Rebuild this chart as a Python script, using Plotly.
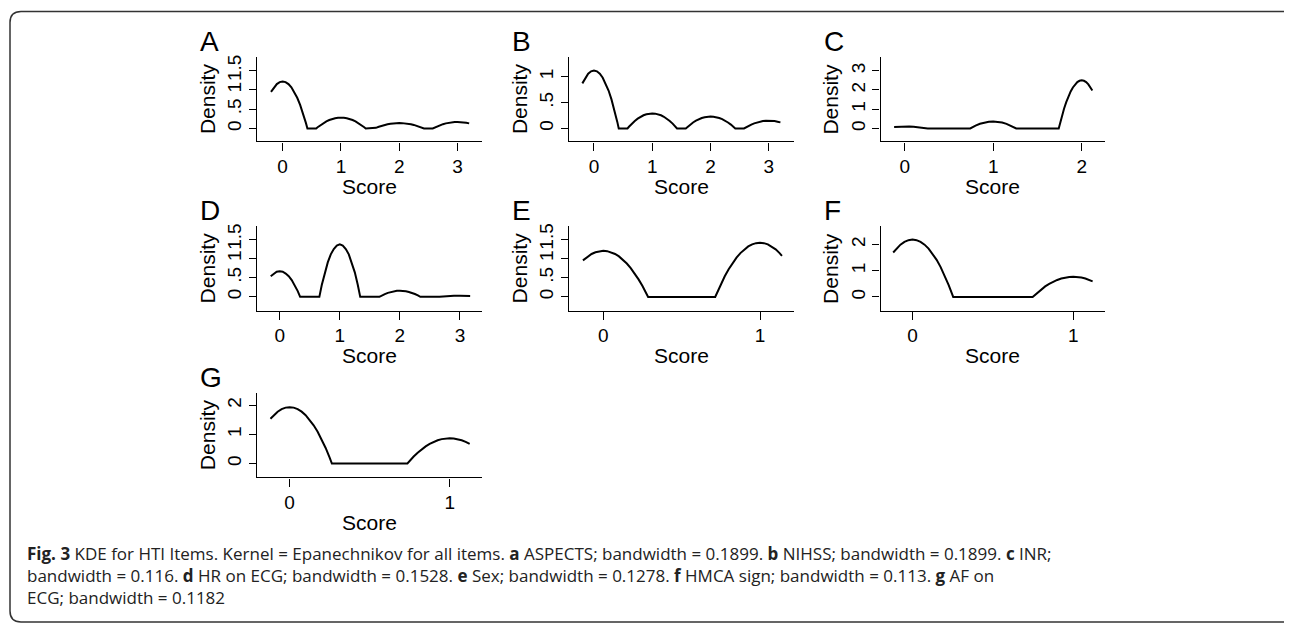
import plotly.graph_objects as go

# ---------------- data ----------------
a_x = [-0.2, -0.15, -0.1, -0.05, 0, 0.05, 0.1, 0.15, 0.2, 0.25, 0.3, 0.35, 0.4, 0.425,
       0.575, 0.6, 0.65, 0.7, 0.75, 0.8, 0.85, 0.9, 0.95, 1.0, 1.05, 1.1, 1.15, 1.2, 1.25, 1.3, 1.35, 1.4, 1.425,
       1.575, 1.6, 1.65, 1.7, 1.75, 1.8, 1.85, 1.9, 1.95, 2.0, 2.05, 2.1, 2.15, 2.2, 2.25, 2.3, 2.35, 2.4, 2.425,
       2.575, 2.6, 2.65, 2.7, 2.75, 2.8, 2.85, 2.9, 2.95, 3.0, 3.05, 3.1, 3.15, 3.2]
a_y = [0.949, 1.068, 1.152, 1.203, 1.22, 1.203, 1.152, 1.068, 0.949, 0.797, 0.611, 0.391, 0.137, 0,
       0, 0.032, 0.090, 0.140, 0.183, 0.218, 0.245, 0.264, 0.276, 0.28, 0.276, 0.264, 0.245, 0.218, 0.183, 0.140, 0.090, 0.032, 0,
       0, 0.016, 0.045, 0.070, 0.091, 0.109, 0.123, 0.132, 0.138, 0.14, 0.138, 0.132, 0.123, 0.109, 0.091, 0.070, 0.045, 0.016, 0,
       0, 0.019, 0.055, 0.085, 0.111, 0.132, 0.149, 0.161, 0.168, 0.17, 0.168, 0.161, 0.149, 0.132]

b_x = list(a_x)
b_y = [0.871, 0.980, 1.058, 1.104, 1.12, 1.104, 1.058, 0.980, 0.871, 0.732, 0.561, 0.359, 0.126, 0,
       0, 0.033, 0.093, 0.145, 0.189, 0.226, 0.254, 0.274, 0.286, 0.29, 0.286, 0.274, 0.254, 0.226, 0.189, 0.145, 0.093, 0.033, 0,
       0, 0.026, 0.074, 0.115, 0.150, 0.179, 0.201, 0.217, 0.227, 0.23, 0.227, 0.217, 0.201, 0.179, 0.150, 0.115, 0.074, 0.026, 0,
       0, 0.017, 0.048, 0.075, 0.098, 0.117, 0.131, 0.142, 0.148, 0.15, 0.148, 0.142, 0.131, 0.117]

c_x = [-0.12, -0.1, -0.05, 0, 0.05, 0.1, 0.15, 0.2, 0.25, 0.26, 0.74, 0.75, 0.8, 0.85, 0.9, 0.95, 1.0, 1.05,
       1.1, 1.15, 1.2, 1.25, 1.26, 1.74, 1.75, 1.775, 1.8, 1.825, 1.85, 1.875, 1.9, 1.925, 1.95, 1.975, 2.0,
       2.025, 2.05, 2.075, 2.1, 2.12]
c_y = [0.079, 0.085, 0.096, 0.1, 0.096, 0.085, 0.067, 0.041, 0.007, 0, 0, 0.026, 0.146, 0.24, 0.306, 0.347, 0.36, 0.347,
       0.306, 0.24, 0.146, 0.026, 0, 0, 0.18, 0.62, 1.02, 1.363, 1.67, 1.92, 2.13, 2.291, 2.41, 2.477, 2.5,
       2.477, 2.41, 2.291, 2.13, 1.97]

d_x = [-0.15, -0.1, -0.05, 0, 0.05, 0.1, 0.15, 0.2, 0.25, 0.3, 0.34, 0.66, 0.7, 0.75, 0.8, 0.85, 0.9, 0.95, 1.0,
       1.05, 1.1, 1.15, 1.2, 1.25, 1.3, 1.34, 1.66, 1.7, 1.75, 1.8, 1.85, 1.9, 1.95, 2.0, 2.05, 2.1, 2.15, 2.2, 2.25,
       2.3, 2.34, 2.66, 2.7, 2.8, 2.9, 3.0, 3.1, 3.17]
d_y = [0.54, 0.61, 0.656, 0.67, 0.656, 0.61, 0.54, 0.44, 0.31, 0.15, 0, 0, 0.31, 0.64, 0.90, 1.11, 1.25, 1.34, 1.37,
       1.34, 1.25, 1.11, 0.90, 0.64, 0.31, 0, 0, 0.037, 0.074, 0.105, 0.129, 0.146, 0.157, 0.16, 0.157, 0.146, 0.129, 0.105, 0.074,
       0.037, 0, 0, 0.007, 0.02, 0.027, 0.03, 0.027, 0.022]

e_x = [-0.13, -0.1, -0.075, -0.05, -0.025, 0, 0.025, 0.05, 0.075, 0.1, 0.125, 0.15, 0.175, 0.2, 0.225, 0.25, 0.275, 0.286,
       0.714, 0.725, 0.75, 0.775, 0.8, 0.825, 0.85, 0.875, 0.9, 0.925, 0.95, 0.975, 1.0, 1.025, 1.05, 1.075, 1.1, 1.125, 1.14]
e_y = [0.95, 1.054, 1.117, 1.163, 1.191, 1.2, 1.191, 1.163, 1.117, 1.054, 0.970, 0.869, 0.750, 0.612, 0.456, 0.282, 0.089, 0,
       0, 0.104, 0.331, 0.536, 0.719, 0.881, 1.021, 1.140, 1.238, 1.313, 1.366, 1.399, 1.41, 1.399, 1.366, 1.313, 1.238, 1.140, 1.07]

f_x = [-0.12, -0.1, -0.075, -0.05, -0.025, 0, 0.025, 0.05, 0.075, 0.1, 0.125, 0.15, 0.175, 0.2, 0.225, 0.25, 0.253,
       0.747, 0.75, 0.775, 0.8, 0.825, 0.85, 0.875, 0.9, 0.925, 0.95, 0.975, 1.0, 1.025, 1.05, 1.075, 1.1, 1.12]
f_y = [1.696, 1.847, 1.997, 2.104, 2.169, 2.19, 2.169, 2.104, 1.997, 1.847, 1.654, 1.418, 1.140, 0.818, 0.454, 0.046, 0,
       0, 0.016, 0.159, 0.288, 0.401, 0.499, 0.582, 0.649, 0.702, 0.740, 0.762, 0.77, 0.762, 0.740, 0.702, 0.649, 0.596]

g_x = [-0.12, -0.1, -0.075, -0.05, -0.025, 0, 0.025, 0.05, 0.075, 0.1, 0.125, 0.15, 0.175, 0.2, 0.225, 0.25, 0.264,
       0.736, 0.75, 0.775, 0.8, 0.825, 0.85, 0.875, 0.9, 0.925, 0.95, 0.975, 1.0, 1.025, 1.05, 1.075, 1.1, 1.125]
g_y = [1.540, 1.662, 1.784, 1.871, 1.923, 1.94, 1.923, 1.871, 1.784, 1.662, 1.506, 1.315, 1.090, 0.829, 0.534, 0.204, 0,
       0, 0.092, 0.240, 0.372, 0.489, 0.590, 0.675, 0.746, 0.800, 0.839, 0.862, 0.87, 0.862, 0.839, 0.800, 0.746, 0.675]

letters = ["A", "B", "C", "D", "E", "F", "G"]
y_tickvals = [[0, 0.5, 1, 1.5], [0, 0.5, 1], [0, 1, 2, 3], [0, 0.5, 1, 1.5], [0, 0.5, 1, 1.5], [0, 1, 2], [0, 1, 2]]
y_ticktext = [["0", ".5", "1", "1.5"], ["0", ".5", "1"], ["0", "1", "2", "3"], ["0", ".5", "1", "1.5"],
              ["0", ".5", "1", "1.5"], ["0", "1", "2"], ["0", "1", "2"]]
x_tickvals = [[0, 1, 2, 3], [0, 1, 2, 3], [0, 1, 2], [0, 1, 2, 3], [0, 1], [0, 1], [0, 1]]
x_title = "Score"
y_title = "Density"

caption_lines = [
    "<b>Fig. 3</b> KDE for HTI Items. Kernel = Epanechnikov for all items. <b>a</b> ASPECTS; bandwidth = 0.1899. "
    "<b>b</b> NIHSS; bandwidth = 0.1899. <b>c</b> INR;",
    "bandwidth = 0.116. <b>d</b> HR on ECG; bandwidth = 0.1528. <b>e</b> Sex; bandwidth = 0.1278. "
    "<b>f</b> HMCA sign; bandwidth = 0.113. <b>g</b> AF on",
    "ECG; bandwidth = 0.1182",
]

series = [(a_x, a_y), (b_x, b_y), (c_x, c_y), (d_x, d_y), (e_x, e_y), (f_x, f_y), (g_x, g_y)]

# ---------------- layout geometry (window pixels) ----------------
OFF = 8                      # default page body margin
W, H = 1292 - OFF, 626 - OFF
cols = [(257, 482), (569, 794), (880.5, 1105)]
rows = [(54, 139), (224.3, 309), (391.7, 476.7)]
x_ranges = [[-0.44, 3.42], [-0.429, 3.433], [-0.274, 2.263], [-0.378, 3.367],
            [-0.219, 1.217], [-0.199, 1.197], [-0.204, 1.202]]
y_ranges = [[-0.336, 1.862], [-0.25, 1.385], [-0.672, 3.724], [-0.357, 1.845],
            [-0.355, 1.839], [-0.52, 2.70], [-0.479, 2.432]]
letter_x = [198, 510, 822]
letter_y = [39, 208, 376]


def px(x):
    return (x - OFF) / W


def py(y):
    return 1 - (y - OFF) / H


FONT = "Liberation Sans, Arial, Helvetica, sans-serif"
fig = go.Figure()
annotations = []
layout = {}

for i, (xs, ys) in enumerate(series):
    r, c = divmod(i, 3)
    n = "" if i == 0 else str(i + 1)
    xa, ya = "x" + n, "y" + n
    fig.add_trace(go.Scatter(x=xs, y=ys, xaxis=xa, yaxis=ya, mode="lines",
                             line=dict(color="black", width=2), showlegend=False,
                             hoverinfo="x+y"))
    x0, x1 = cols[c]
    y0, y1 = rows[r]
    layout["xaxis" + n] = dict(domain=[px(x0), px(x1)], range=x_ranges[i], anchor=ya,
                               showline=True, linecolor="black", linewidth=1.3,
                               ticks="outside", ticklen=8, tickwidth=1.3, tickcolor="black",
                               tickvals=x_tickvals[i], showgrid=False, zeroline=False,
                               tickfont=dict(family=FONT, size=19, color="black"), fixedrange=True)
    layout["yaxis" + n] = dict(domain=[py(y1), py(y0)], range=y_ranges[i], anchor=xa,
                               showline=True, linecolor="black", linewidth=1.3,
                               ticks="outside", ticklen=7, tickwidth=1.3, tickcolor="black",
                               tickvals=y_tickvals[i], ticktext=y_ticktext[i], tickangle=-90,
                               showgrid=False, zeroline=False,
                               tickfont=dict(family=FONT, size=19, color="black"), fixedrange=True)
    annotations.append(dict(text=letters[i], x=px(letter_x[c]), y=py(letter_y[r]), xref="paper", yref="paper",
                            xanchor="left", yanchor="middle", showarrow=False,
                            font=dict(family=FONT, size=28, color="black")))
    annotations.append(dict(text=y_title, x=px(x0 - 50), y=py((y0 + y1) / 2), xref="paper", yref="paper",
                            xanchor="center", yanchor="middle", textangle=-90, showarrow=False,
                            font=dict(family=FONT, size=21, color="black")))
    annotations.append(dict(text=x_title, x=px((x0 + x1) / 2), y=py(y1 + 45), xref="paper", yref="paper",
                            xanchor="center", yanchor="middle", showarrow=False,
                            font=dict(family=FONT, size=21, color="black")))

# caption as one left-aligned multi-line block
annotations.append(dict(text="<br>".join(caption_lines), x=px(25), y=py(575), xref="paper", yref="paper",
                        xanchor="left", yanchor="middle", align="left", showarrow=False,
                        font=dict(family="Open Sans, sans-serif", size=17, color="#222")))

# rounded frame
L, T, R, B, rad = 10, 8.5, 1297, 622, 11
path = (f"M {px(L)},{py(T + rad)} Q {px(L)},{py(T)} {px(L + rad)},{py(T)} "
        f"L {px(R - rad)},{py(T)} Q {px(R)},{py(T)} {px(R)},{py(T + rad)} "
        f"L {px(R)},{py(B - rad)} Q {px(R)},{py(B)} {px(R - rad)},{py(B)} "
        f"L {px(L + rad)},{py(B)} Q {px(L)},{py(B)} {px(L)},{py(B - rad)} Z")
shapes = [dict(type="path", path=path, xref="paper", yref="paper",
               line=dict(color="#333", width=1.5), fillcolor="rgba(0,0,0,0)")]

fig.update_layout(width=W, height=H, margin=dict(l=0, r=0, t=0, b=0),
                  paper_bgcolor="white", plot_bgcolor="white",
                  annotations=annotations, shapes=shapes, **layout)

fig.write_html("out.html")
